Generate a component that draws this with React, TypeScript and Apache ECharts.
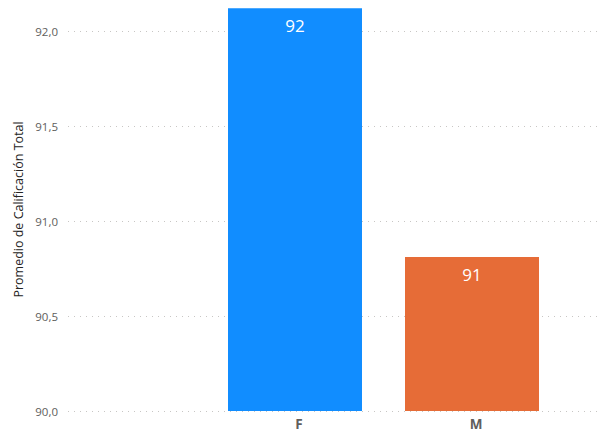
import React, { useEffect, useRef } from "react";
import * as echarts from "echarts";

const categories = ["F", "M"];
const values = [92.12, 90.81];
const barColors = ["#118DFF", "#E66C37"];
const yTicks = { min: 90, max: 92, interval: 0.5 };
const yTitle = "Promedio de Calificación Total";

export default function App() {
  const ref = useRef<HTMLDivElement>(null);
  useEffect(() => {
    document.body.style.margin = "0";
    const chart = echarts.init(ref.current!, null, { renderer: "svg" });
    const font = "'Open Sans', 'Noto Sans', sans-serif";
    const maxVal = Math.max(...values);
    const ppu = 380 / (yTicks.max - yTicks.min);
    const barTop = 31 - (maxVal - yTicks.max) * ppu;
    chart.setOption({
      animation: false,
      grid: [
        { left: 68, right: 0, top: 31, bottom: 22 },
        { left: 206.5, right: 36.5, top: barTop, bottom: 22 },
      ],
      graphic: [
        {
          type: "text",
          x: 18,
          y: 209.5,
          rotation: Math.PI / 2,
          style: {
            text: yTitle,
            fontFamily: font,
            fontSize: 12.5,
            fill: "#252423",
            align: "center",
            verticalAlign: "middle",
          },
        },
      ],
      xAxis: [
        { type: "category", gridIndex: 0, data: [""], show: false },
        {
          type: "category",
          gridIndex: 1,
          data: categories,
          axisLine: { show: false },
          axisTick: { show: false },
          axisLabel: {
            fontFamily: font,
            fontWeight: "bold",
            fontSize: 13.5,
            color: "#605E5C",
            margin: 6,
            padding: [0, 0, 0, 8],
          },
        },
      ],
      yAxis: [
        {
          type: "value",
          gridIndex: 0,
          min: yTicks.min,
          max: yTicks.max,
          interval: yTicks.interval,
          axisLine: { show: false },
          axisTick: { show: false },
          axisLabel: {
            fontFamily: font,
            fontSize: 11.5,
            color: "#605E5C",
            margin: 10,
            formatter: (v: number) => v.toFixed(1).replace(".", ","),
          },
          splitLine: {
            lineStyle: { color: "#C8C6C4", type: [1, 5], width: 1 },
          },
        },
        {
          type: "value",
          gridIndex: 1,
          min: yTicks.min,
          max: maxVal,
          show: false,
          splitLine: { show: false },
        },
      ],
      series: [
        {
          type: "bar",
          xAxisIndex: 1,
          yAxisIndex: 1,
          clip: true,
          barWidth: 134,
          data: values.map((v, i) => ({ value: v, itemStyle: { color: barColors[i] } })),
          label: {
            show: true,
            position: "insideTop",
            distance: 9,
            fontFamily: font,
            fontSize: 17,
            color: "#FFFFFF",
            formatter: (p: any) => String(Math.round(p.value)),
          },
        },
      ],
    });
    return () => chart.dispose();
  }, []);
  return <div ref={ref} style={{ width: 597, height: 433 }} />;
}
